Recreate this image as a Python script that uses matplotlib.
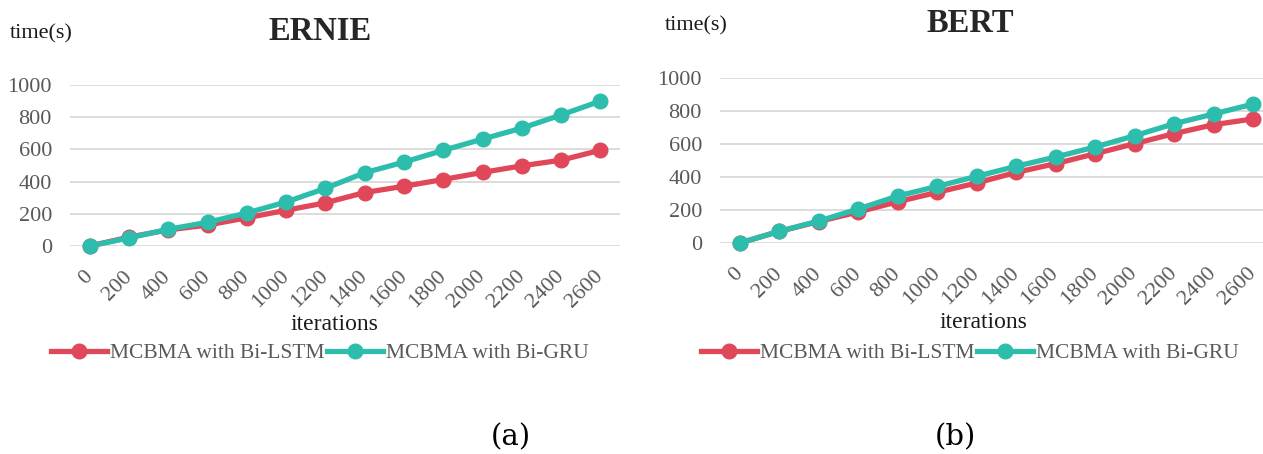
import numpy as np
import matplotlib
matplotlib.use("Agg")
import matplotlib.pyplot as plt

# iteration categories shared by both panels
iterations = [0, 200, 400, 600, 800, 1000, 1200, 1400, 1600, 1800, 2000, 2200, 2400, 2600]

# ERNIE training time (s)
ernie_lstm = [0, 55, 100, 130, 175, 222, 268, 332, 371, 413, 457, 498, 533, 595]
ernie_gru = [0, 50, 104, 147, 205, 273, 358, 455, 521, 594, 664, 732, 814, 900]

# BERT training time (s)
bert_lstm = [0, 70, 130, 188, 250, 307, 364, 428, 481, 541, 602, 663, 717, 752]
bert_gru = [0, 71, 133, 206, 285, 343, 404, 465, 521, 582, 650, 723, 782, 842]

RED = "#E0485A"
TEAL = "#2DBDAC"
GRAY = "#595959"
SERIF = "Liberation Serif"

W, H = 1263, 454
fig = plt.figure(figsize=(W / 100, H / 100), dpi=100)


def px(x, y):
    """pixel position (top-left origin) -> figure fraction"""
    return x / W, 1 - y / H


def draw_panel(rect, xmax, title, lstm, gru, title_xy, time_xy, xlabel_xy, legend_xy):
    ax = fig.add_axes(rect)
    idx = np.arange(len(iterations))
    ax.plot(idx, lstm, color=RED, lw=3.8, marker="o", ms=10.5, clip_on=False,
            zorder=3, label="MCBMA with Bi-LSTM")
    ax.plot(idx, gru, color=TEAL, lw=3.8, marker="o", ms=10.5, clip_on=False,
            zorder=4, label="MCBMA with Bi-GRU")
    ax.set_xlim(-0.5, xmax)
    ax.set_ylim(0, 1000)
    ax.set_yticks(range(0, 1001, 200))
    ax.set_xticks(idx)
    ax.set_xticklabels([str(v) for v in iterations], rotation=45, ha="right",
                       va="center", rotation_mode="anchor", fontfamily=SERIF,
                       fontsize=16, color=GRAY)
    for lab in ax.get_yticklabels():
        lab.set_fontfamily(SERIF)
        lab.set_fontsize(16)
        lab.set_color(GRAY)
    ax.tick_params(axis="both", length=0)
    ax.tick_params(axis="y", pad=13)
    ax.tick_params(axis="x", pad=20)
    ax.grid(axis="y", color="#D9D9D9", lw=1.3)
    ax.set_axisbelow(True)
    for s in ax.spines.values():
        s.set_visible(False)

    fig.text(*px(*title_xy), title, ha="center", va="center", fontfamily=SERIF,
             fontsize=23.5, fontweight="bold", color="#262626")
    fig.text(*px(*time_xy), "time(s)", ha="left", va="center", fontfamily=SERIF,
             fontsize=16, color="#1a1a1a")
    fig.text(*px(*xlabel_xy), "iterations", ha="center", va="center", fontfamily=SERIF,
             fontsize=17, color="#1a1a1a")
    leg = fig.legend(*ax.get_legend_handles_labels(), loc="center",
                     bbox_to_anchor=px(*legend_xy), ncol=2, frameon=False,
                     prop={"family": SERIF, "size": 15.5}, handlelength=2.6,
                     handletextpad=0.15, columnspacing=0.1, borderaxespad=0)
    for t in leg.get_texts():
        t.set_color(GRAY)
    return ax


# left panel (a): ERNIE
l0, b0 = px(70, 246)
l1, b1 = px(620, 85)
draw_panel([l0, b0, l1 - l0, b1 - b0], 13.5, "ERNIE", ernie_lstm, ernie_gru,
           (320, 32), (10, 34), (334, 325), (320, 353))

# right panel (b): BERT (runs to the image edge)
r0, c0 = px(720, 243)
r1, c1 = px(1263, 78)
draw_panel([r0, c0, r1 - r0, c1 - c0], 13.25, "BERT", bert_lstm, bert_gru,
           (970, 23), (665, 26), (983, 323), (970, 353))

fig.text(*px(511, 437), "(a)", ha="center", va="center", fontfamily="DejaVu Serif",
         fontsize=21, color="black")
fig.text(*px(955, 437), "(b)", ha="center", va="center", fontfamily="DejaVu Serif",
         fontsize=21, color="black")

fig.savefig("out.png", dpi=100)
